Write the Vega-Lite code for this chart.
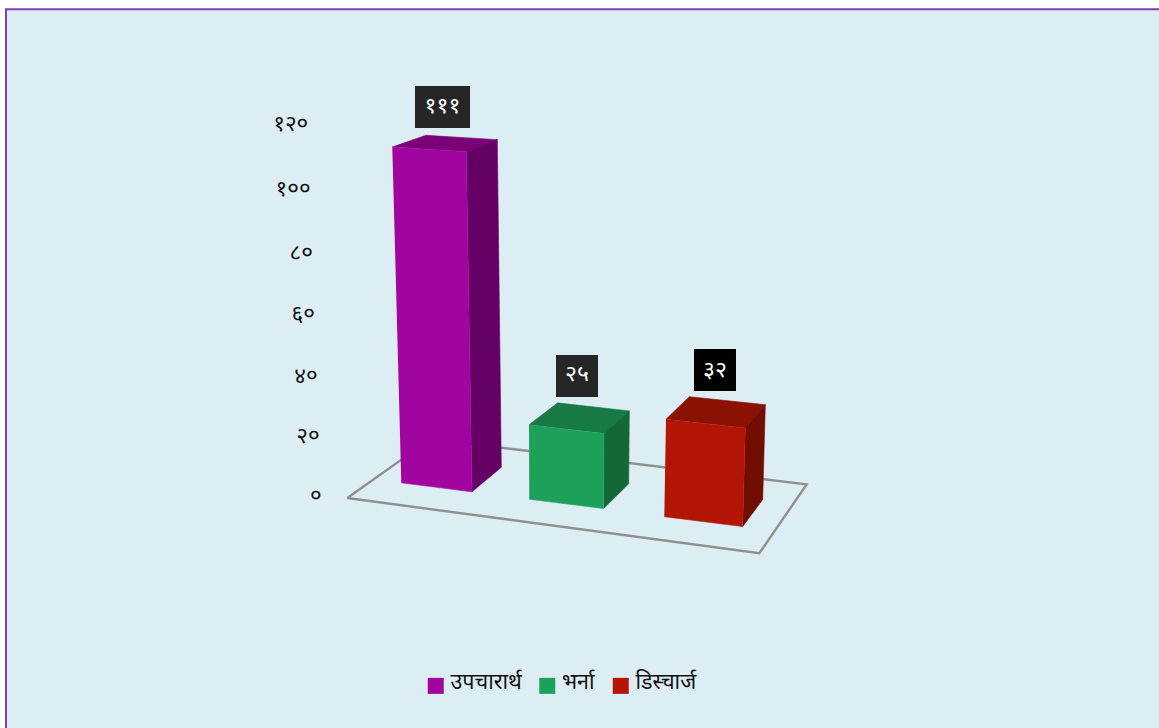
{
"$schema":"https://vega.github.io/schema/vega-lite/v6.json",
"width":1159,"height":728,"padding":0,"autosize":{"type":"none"},
"background":"#ffffff",
"view":{"stroke":null},
"config":{"font":"Noto Sans"},
"datasets":{
"panel":[{"across":0.6,"across2":115.9,"height":156.4,"height2":-75.48}],
"frame":[{"seq":1,"across":0.6,"height":-75.48},{"seq":2,"across":0.6,"height":156.4},{"seq":3,"across":115.9,"height":156.4}],
"floor":[{"seq":1,"across":34.73,"height":-1.3},{"seq":2,"across":75.93,"height":-19.1},{"seq":3,"across":80.67,"height":3.1},{"seq":4,"across":43.04,"height":17.7},{"seq":5,"across":34.73,"height":-1.3}],
"ticks":[{"tick":120,"label":"१२०","across":30.83,"height":119.4},{"tick":100,"label":"१००","across":31.07,"height":98.4},{"tick":80,"label":"८०","across":31.3,"height":77.9},{"tick":60,"label":"६०","across":31.5,"height":58.1},{"tick":40,"label":"४०","across":31.77,"height":38.1},{"tick":20,"label":"२०","across":31.97,"height":18.8},{"tick":0,"label":"०","across":32.17,"height":-0.6}],
"bars":[{"category":"उपचारार्थ","value":111,"label":"१११","boxLeft":41.5,"boxRight":47,"boxTop":131.6,"boxBottom":118.1,"boxMid":44.25,"textHeight":125.2},{"category":"भर्ना","value":25,"label":"२५","boxLeft":55.6,"boxRight":59.8,"boxTop":44.8,"boxBottom":31.3,"boxMid":57.7,"textHeight":38.8},{"category":"डिस्चार्ज","value":32,"label":"३२","boxLeft":69.4,"boxRight":73.6,"boxTop":46.8,"boxBottom":33.2,"boxMid":71.5,"textHeight":40}],
"faces":[
{"category":"उपचारार्थ","face":"top","seq":1,"across":39.23,"height":111.9},{"category":"उपचारार्थ","face":"top","seq":2,"across":42.6,"height":115.7},{"category":"उपचारार्थ","face":"top","seq":3,"across":49.73,"height":114.3},{"category":"उपचारार्थ","face":"top","seq":4,"across":46.63,"height":110.4},
{"category":"उपचारार्थ","face":"side","seq":1,"across":46.63,"height":110.4},{"category":"उपचारार्थ","face":"side","seq":2,"across":49.73,"height":114.3},{"category":"उपचारार्थ","face":"side","seq":3,"across":50.13,"height":8.6},{"category":"उपचारार्थ","face":"side","seq":4,"across":47.2,"height":0.7},
{"category":"उपचारार्थ","face":"front","seq":1,"across":39.23,"height":111.9},{"category":"उपचारार्थ","face":"front","seq":2,"across":46.63,"height":110.4},{"category":"उपचारार्थ","face":"front","seq":3,"across":47.2,"height":0.7},{"category":"उपचारार्थ","face":"front","seq":4,"across":40.13,"height":3.6},
{"category":"भर्ना","face":"top","seq":1,"across":52.9,"height":22.3},{"category":"भर्ना","face":"top","seq":2,"across":55.77,"height":29.4},{"category":"भर्ना","face":"top","seq":3,"across":62.93,"height":26.8},{"category":"भर्ना","face":"top","seq":4,"across":60.4,"height":19.5},
{"category":"भर्ना","face":"side","seq":1,"across":60.4,"height":19.5},{"category":"भर्ना","face":"side","seq":2,"across":62.93,"height":26.8},{"category":"भर्ना","face":"side","seq":3,"across":62.87,"height":3.3},{"category":"भर्ना","face":"side","seq":4,"across":60.37,"height":-4.7},
{"category":"भर्ना","face":"front","seq":1,"across":52.9,"height":22.3},{"category":"भर्ना","face":"front","seq":2,"across":60.4,"height":19.5},{"category":"भर्ना","face":"front","seq":3,"across":60.37,"height":-4.7},{"category":"भर्ना","face":"front","seq":4,"across":52.93,"height":-1.7},
{"category":"डिस्चार्ज","face":"top","seq":1,"across":66.6,"height":24.1},{"category":"डिस्चार्ज","face":"top","seq":2,"across":68.93,"height":31.4},{"category":"डिस्चार्ज","face":"top","seq":3,"across":76.53,"height":28.8},{"category":"डिस्चार्ज","face":"top","seq":4,"across":74.53,"height":21.3},
{"category":"डिस्चार्ज","face":"side","seq":1,"across":74.53,"height":21.3},{"category":"डिस्चार्ज","face":"side","seq":2,"across":76.53,"height":28.8},{"category":"डिस्चार्ज","face":"side","seq":3,"across":76.27,"height":-1.8},{"category":"डिस्चार्ज","face":"side","seq":4,"across":74.27,"height":-10.5},
{"category":"डिस्चार्ज","face":"front","seq":1,"across":66.6,"height":24.1},{"category":"डिस्चार्ज","face":"front","seq":2,"across":74.53,"height":21.3},{"category":"डिस्चार्ज","face":"front","seq":3,"across":74.27,"height":-10.5},{"category":"डिस्चार्ज","face":"front","seq":4,"across":66.43,"height":-7.3}
]},
"encoding":{
"x":{"field":"across","type":"quantitative","scale":{"domain":[0,115.9],"nice":false,"zero":false},"axis":null},
"y":{"field":"height","type":"quantitative","scale":{"domain":[-75.48,159.35],"nice":false,"zero":false},"axis":null}
},
"layer":[
{"data":{"name":"panel"},"mark":{"type":"rect","fill":"#dceef4"},"encoding":{"x2":{"field":"across2"},"y2":{"field":"height2"}}},
{"data":{"name":"frame"},"mark":{"type":"line","stroke":"#7e3fb0","strokeWidth":2,"interpolate":"linear"},"encoding":{"order":{"field":"seq","type":"quantitative"}}},
{"data":{"name":"floor"},"mark":{"type":"line","stroke":"#8f8f8f","strokeWidth":2.4},"encoding":{"order":{"field":"seq","type":"quantitative"}}},
{"data":{"name":"ticks"},"mark":{"type":"text","align":"right","baseline":"middle","fontSize":22.5,"fill":"#111111"},"encoding":{"text":{"field":"label"}}},
{"data":{"name":"faces"},"transform":[{"filter":"datum.face==='top'"}],"mark":{"type":"line","strokeWidth":0.6},"encoding":{"order":{"field":"seq","type":"quantitative"},"stroke":{"field":"category","type":"nominal","scale":{"domain":["उपचारार्थ","भर्ना","डिस्चार्ज"],"range":["#7b0078","#177a45","#8b1102"]},"legend":null},"fill":{"field":"category","type":"nominal","scale":{"domain":["उपचारार्थ","भर्ना","डिस्चार्ज"],"range":["#7b0078","#177a45","#8b1102"]},"legend":null}}},
{"data":{"name":"faces"},"transform":[{"filter":"datum.face==='side'"}],"mark":{"type":"line","strokeWidth":0.6},"encoding":{"order":{"field":"seq","type":"quantitative"},"stroke":{"field":"category","type":"nominal","scale":{"domain":["उपचारार्थ","भर्ना","डिस्चार्ज"],"range":["#650064","#136836","#720e01"]},"legend":null},"fill":{"field":"category","type":"nominal","scale":{"domain":["उपचारार्थ","भर्ना","डिस्चार्ज"],"range":["#650064","#136836","#720e01"]},"legend":null}}},
{"data":{"name":"faces"},"transform":[{"filter":"datum.face==='front'"}],"mark":{"type":"line","strokeWidth":0.6},"encoding":{"order":{"field":"seq","type":"quantitative"},"stroke":{"field":"category","type":"nominal","scale":{"domain":["उपचारार्थ","भर्ना","डिस्चार्ज"],"range":["#a0059f","#1ca05a","#b31605"]},"legend":null},"fill":{"field":"category","type":"nominal","title":null,"sort":["उपचारार्थ","भर्ना","डिस्चार्ज"],"scale":{"domain":["उपचारार्थ","भर्ना","डिस्चार्ज"],"range":["#a0059f","#1ca05a","#b31605"]},"legend":{"orient":"none","legendX":425,"legendY":672,"direction":"horizontal","symbolType":"M-1,-0.625H1V1.375H-1Z","symbolSize":256,"symbolStrokeWidth":0,"labelFontSize":21.5,"labelColor":"#111111","columnPadding":14.5,"labelOffset":4,"title":null}}}},
{"data":{"name":"bars"},"mark":{"type":"rect"},"encoding":{"x":{"field":"boxLeft","type":"quantitative"},"x2":{"field":"boxRight"},"y":{"field":"boxTop","type":"quantitative"},"y2":{"field":"boxBottom"},"fill":{"field":"category","type":"nominal","scale":{"domain":["उपचारार्थ","भर्ना","डिस्चार्ज"],"range":["#262626","#262626","#000000"]},"legend":null}}},
{"data":{"name":"bars"},"mark":{"type":"text","fill":"#ffffff","fontSize":23,"baseline":"middle","align":"center"},"encoding":{"x":{"field":"boxMid","type":"quantitative"},"y":{"field":"textHeight","type":"quantitative"},"text":{"field":"label"}}}
],
"resolve":{"scale":{"fill":"independent","stroke":"independent"}}
}
